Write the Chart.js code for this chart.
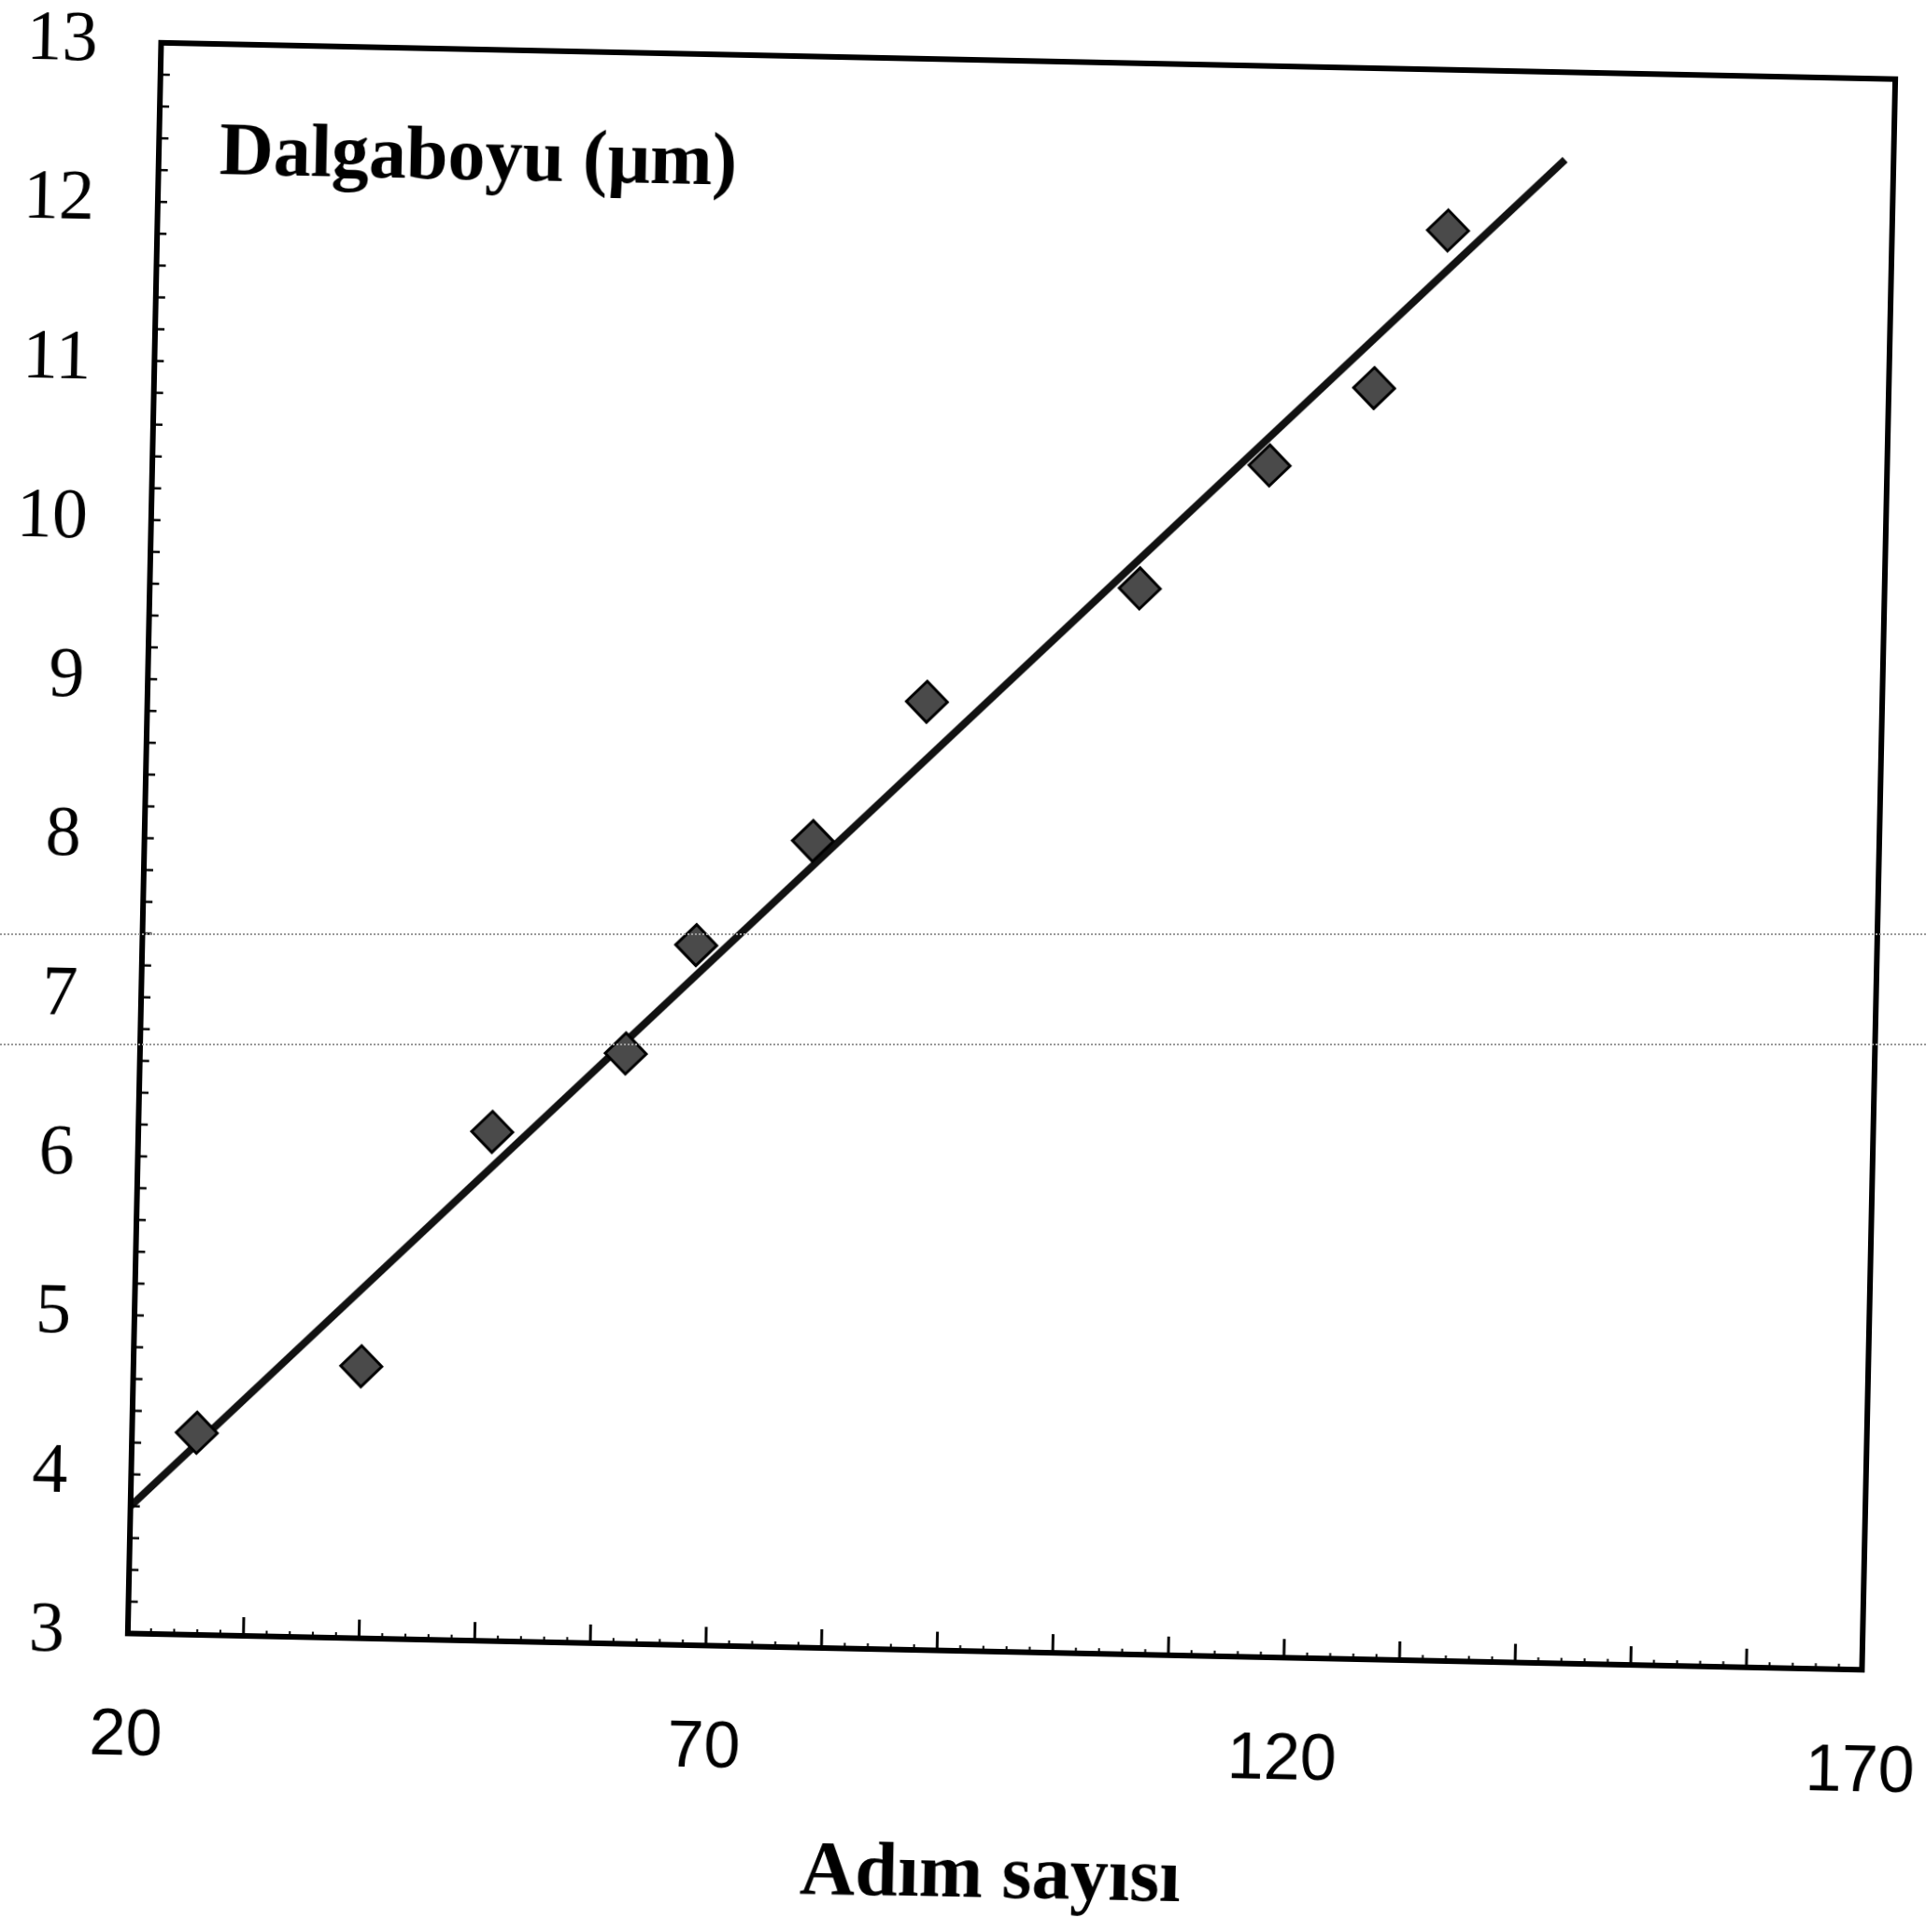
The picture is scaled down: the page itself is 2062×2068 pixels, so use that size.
<!DOCTYPE html>
<html>
<head>
<meta charset="utf-8">
<script src="https://cdn.jsdelivr.net/npm/chart.js@4/dist/chart.umd.min.js"></script>
<style>
  html, body { margin: 0; padding: 0; background: #fff; overflow: hidden; }
  #wrap {
    position: absolute; left: 0; top: 0; width: 2160px; height: 2068px;
    transform: rotate(1.2deg); transform-origin: 1031px 1034px;
  }
  .scanline {
    position: absolute; left: 0; width: 2062px; height: 0;
    border-top: 2px dotted #9a9a9a; z-index: 2;
  }
</style>
</head>
<body>
<div id="wrap"><canvas id="chart"></canvas></div>
<div class="scanline" style="top:999px"></div>
<div class="scanline" style="top:1117px"></div>
<script>
// measured points (step count -> wavelength in µm)
const steps = [25.6, 39.7, 50.6, 62.0, 67.9, 77.8, 87.4, 105.6, 116.6, 125.5, 131.6];
const wavelength = [4.27, 4.71, 6.20, 6.71, 7.40, 8.07, 8.96, 9.70, 10.49, 10.99, 11.99];

// fitted line end points
const fitX = [20, 141.6];
const fitY = [3.8, 12.45];

// axis ticks
const xTickValues = [20, 70, 120, 170];
const yTickValues = [3, 4, 5, 6, 7, 8, 9, 10, 11, 12, 13];

const yTitle = 'Dalgaboyu (μm)';
const xTitle = 'Adım sayısı';

// frame, inner tick marks and the in-plot label
const framePlugin = {
    id: 'frame',
    afterDraw(chart) {
        const { ctx, chartArea: a, scales: { x, y } } = chart;
        ctx.save();
        ctx.strokeStyle = '#000';

        // y ticks every 0.2
        ctx.lineWidth = 2.5;
        for (let v = 3; v <= 13.001; v += 0.2) {
            const py = y.getPixelForValue(v);
            ctx.beginPath();
            ctx.moveTo(a.left, py);
            ctx.lineTo(a.left + 10, py);
            ctx.stroke();
        }
        // x ticks: tall every 10, short every 2
        for (let v = 20; v <= 170.001; v += 2) {
            const px = x.getPixelForValue(v);
            const major = Math.abs(v % 10) < 0.01;
            ctx.lineWidth = major ? 3 : 2;
            ctx.beginPath();
            ctx.moveTo(px, a.bottom);
            ctx.lineTo(px, a.bottom - (major ? 20 : 6));
            ctx.stroke();
        }

        ctx.lineWidth = 6;
        ctx.strokeRect(a.left, a.top, a.right - a.left, a.bottom - a.top);

        ctx.fillStyle = '#000';
        ctx.font = 'bold 80px "Liberation Serif"';
        ctx.textBaseline = 'middle';
        ctx.textAlign = 'left';
        ctx.fillText(yTitle, a.left + 65, a.top + 118);
        ctx.restore();
    }
};

const ctx = document.getElementById('chart').getContext('2d');
new Chart(ctx, {
    type: 'scatter',
    data: {
        datasets: [
            {
                data: steps.map((s, i) => ({ x: s, y: wavelength[i] })),
                pointStyle: 'rectRot',
                pointRadius: 22,
                backgroundColor: '#4a4a4a',
                borderColor: '#000',
                borderWidth: 3
            },
            {
                data: fitX.map((s, i) => ({ x: s, y: fitY[i] })),
                showLine: true,
                pointRadius: 0,
                borderColor: '#111',
                borderWidth: 8
            }
        ]
    },
    options: {
        responsive: true,
        maintainAspectRatio: false,
        animation: false,
        layout: { padding: { left: 0, top: 64, right: 151, bottom: 0 } },
        plugins: { legend: { display: false }, tooltip: { enabled: false } },
        scales: {
            x: {
                type: 'linear',
                min: 20, max: 170,
                afterBuildTicks: s => { s.ticks = xTickValues.map(v => ({ value: v })); },
                afterFit: s => { s.height = 301; s.paddingLeft = 0; s.paddingRight = 0; },
                grid: { display: false, drawTicks: false },
                border: { display: false },
                ticks: {
                    padding: 69,
                    color: '#000',
                    maxRotation: 0,
                    autoSkip: false,
                    font: { family: '"Liberation Sans"', size: 70 }
                },
                title: {
                    display: true,
                    text: xTitle,
                    color: '#000',
                    padding: { top: 0, bottom: 10 },
                    font: { family: '"Liberation Serif"', size: 82, weight: 'bold' }
                }
            },
            y: {
                type: 'linear',
                min: 3, max: 13,
                afterBuildTicks: s => { s.ticks = yTickValues.map(v => ({ value: v })); },
                afterFit: s => { s.width = 152; s.paddingTop = 0; s.paddingBottom = 0; },
                grid: { display: false, drawTicks: false },
                border: { display: false },
                ticks: {
                    padding: 68,
                    color: '#000',
                    autoSkip: false,
                    font: { family: '"Liberation Serif"', size: 76 }
                }
            }
        }
    },
    plugins: [framePlugin]
});
</script>
</body>
</html>
